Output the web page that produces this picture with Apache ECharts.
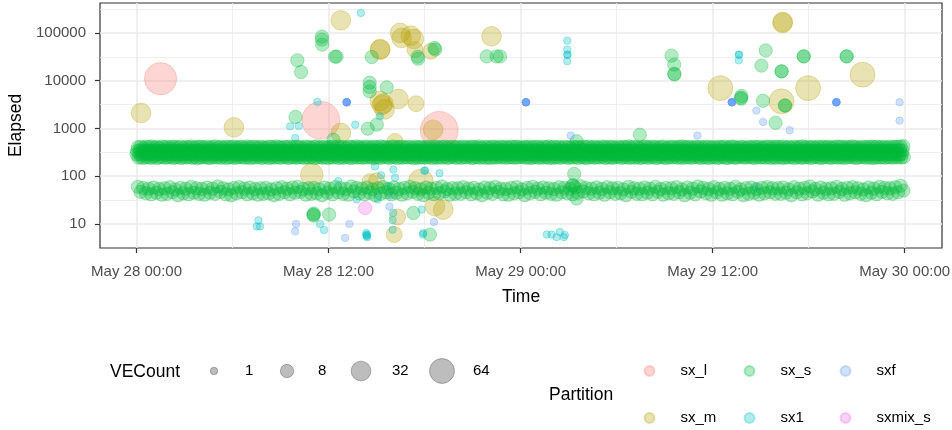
<!DOCTYPE html>
<html>
<head>
<meta charset="utf-8">
<title>Elapsed by time and partition</title>
<script src="https://cdn.jsdelivr.net/npm/echarts@6/dist/echarts.min.js"></script>
<style>
    html, body { margin: 0; padding: 0; background: #fff; }
    #chart { width: 952px; height: 430px; }
</style>
</head>
<body>
<div id="chart"></div>
<script>
var YEAR = 2021;

// axis ranges / breaks (times are 'DD HH:MM' in May)
var xRange = ['27 21:43', '30 02:20'];
var xTicks = ['28 00:00', '28 12:00', '29 00:00', '29 12:00', '30 00:00'];
var xMinorTicks = ['28 06:00', '28 18:00', '29 06:00', '29 18:00'];
var yRange = [3.14, 424000];
var yTicks = [10, 100, 1000, 10000, 100000];
var yMinorTicks = [31.6, 316, 3162, 31623, 316228];
var sizeBreaks = [1, 8, 32, 64];

// [time, Elapsed, VECount]
var sxL = [
    ['28 01:30', 11000, 128], ['28 11:31', 1480, 192], ['28 18:55', 910, 192]
];
var sxM = [
    ['28 00:17', 2110, 32], ['28 06:05', 1055, 32], ['28 10:57', 108, 48],
    ['28 12:46', 184000, 32], ['28 12:46', 808, 32], ['28 14:35', 77, 16],
    ['28 15:00', 80, 16], ['28 15:12', 3800, 32], ['28 15:13', 44700, 32],
    ['28 15:14', 46000, 32], ['28 15:20', 3100, 32], ['28 15:25', 3300, 32],
    ['28 15:30', 2500, 32], ['28 16:06', 6.0, 16], ['28 16:09', 535, 16],
    ['28 16:19', 14, 16], ['28 16:22', 4150, 32], ['28 16:28', 100000, 32],
    ['28 16:34', 78600, 32], ['28 17:08', 87800, 32], ['28 17:20', 74900, 32],
    ['28 17:24', 44700, 16], ['28 17:28', 3300, 16], ['28 17:46', 77, 64],
    ['28 18:23', 41200, 16], ['28 18:32', 940, 32], ['28 18:39', 23.5, 32],
    ['28 19:10', 20, 32], ['28 22:11', 84900, 32], ['29 12:29', 7000, 64],
    ['29 16:18', 3700, 64], ['29 16:22', 162000, 32], ['29 16:23', 170000, 32],
    ['29 17:58', 7000, 64], ['29 21:22', 13400, 64]
];
var sxS = [
    ['28 09:56', 1740, 8], ['28 10:03', 26700, 8], ['28 10:17', 15200, 8],
    ['28 11:03', 15.8, 8], ['28 11:04', 15, 8], ['28 11:05', 16.5, 8],
    ['28 11:35', 84000, 8], ['28 11:35', 72400, 8], ['28 11:36', 56900, 8],
    ['28 12:02', 15.8, 8], ['28 12:18', 580, 8], ['28 12:24', 31900, 8],
    ['28 12:30', 31900, 8], ['28 14:27', 990, 8], ['28 14:34', 9100, 8],
    ['28 14:34', 7400, 8], ['28 14:34', 6000, 8], ['28 14:42', 31400, 8],
    ['28 15:01', 1200, 8], ['28 15:38', 7260, 8], ['28 17:18', 17, 8],
    ['28 17:34', 31900, 8], ['28 17:36', 28900, 8], ['28 18:20', 6.0, 8],
    ['28 18:37', 48500, 8], ['28 18:40', 45000, 8], ['28 21:53', 32300, 8],
    ['28 22:30', 32300, 8], ['28 22:43', 32300, 8], ['29 03:15', 63, 8],
    ['29 03:16', 65, 8], ['29 03:21', 112, 8], ['29 03:30', 540, 8],
    ['29 03:30', 34, 8], ['29 07:27', 740, 8], ['29 09:26', 33500, 8],
    ['29 09:36', 21700, 8], ['29 09:36', 14000, 8], ['29 09:37', 13500, 8],
    ['29 13:46', 4400, 8], ['29 13:47', 4200, 8], ['29 13:48', 4800, 8],
    ['29 15:03', 20700, 8], ['29 15:09', 3800, 8], ['29 15:19', 43200, 8],
    ['29 15:56', 1310, 8], ['29 16:18', 15700, 8], ['29 16:19', 15700, 8],
    ['29 16:31', 3050, 8], ['29 16:32', 3000, 8], ['29 17:41', 32300, 8],
    ['29 17:42', 32300, 8], ['29 20:22', 32300, 8], ['29 20:23', 32300, 8]
];
var sx1 = [
    ['28 07:31', 8.9, 1], ['28 07:37', 11.9, 1], ['28 07:43', 8.9, 1],
    ['28 09:36', 1107, 1], ['28 09:55', 631, 1], ['28 10:08', 1130, 1],
    ['28 11:18', 3600, 1], ['28 11:28', 10, 1], ['28 11:43', 7.5, 1],
    ['28 12:36', 79, 1], ['28 13:40', 1200, 1], ['28 13:46', 32.5, 1],
    ['28 14:01', 262000, 1], ['28 14:21', 6.5, 1], ['28 14:22', 5.8, 1],
    ['28 14:23', 5.6, 1], ['28 14:24', 6.0, 1], ['28 14:25', 5.3, 1],
    ['28 14:54', 160, 1], ['28 15:04', 32.5, 1], ['28 15:12', 1800, 1],
    ['28 15:17', 105, 1], ['28 15:44', 61, 1], ['28 16:00', 7.6, 1],
    ['28 16:00', 12, 1], ['28 16:02', 17, 1], ['28 16:03', 138, 1],
    ['28 16:09', 93, 1], ['28 17:49', 20, 1], ['28 17:54', 6.0, 1],
    ['28 17:55', 6.5, 1], ['28 17:59', 130, 1], ['28 18:02', 132, 1],
    ['28 18:56', 115, 1], ['29 01:38', 6.0, 1], ['29 01:56', 6.0, 1],
    ['29 02:15', 5.3, 1], ['29 02:27', 6.8, 1], ['29 02:42', 5.3, 1],
    ['29 02:46', 5.9, 1], ['29 02:55', 68900, 1], ['29 02:55', 44700, 1],
    ['29 02:55', 35100, 1], ['29 02:56', 35100, 1], ['29 02:55', 25600, 1],
    ['29 13:38', 35100, 1], ['29 13:39', 35100, 1], ['29 13:38', 26700, 1]
];
var sxf = [
    ['28 09:55', 7.0, 1], ['28 09:58', 10, 1], ['28 13:02', 5.1, 1],
    ['28 13:08', 3540, 1], ['28 13:08', 3540, 1], ['28 13:08', 3540, 1],
    ['28 13:08', 3540, 1], ['28 13:08', 3540, 1], ['28 13:08', 3540, 1],
    ['28 13:18', 10, 1], ['28 15:48', 23.3, 1], ['28 15:54', 40, 1],
    ['28 18:35', 11, 1],
    ['29 00:20', 3540, 1], ['29 00:20', 3540, 1], ['29 00:20', 3540, 1],
    ['29 00:20', 3540, 1], ['29 00:20', 3540, 1], ['29 00:20', 3540, 1],
    ['29 03:08', 709, 1], ['29 11:03', 709, 1],
    ['29 13:12', 3540, 1], ['29 13:12', 3540, 1], ['29 13:12', 3540, 1],
    ['29 13:12', 3540, 1], ['29 13:12', 3540, 1], ['29 13:12', 3540, 1],
    ['29 14:44', 2370, 1], ['29 14:44', 60, 1], ['29 15:09', 1370, 1],
    ['29 16:49', 915, 1],
    ['29 19:44', 3540, 1], ['29 19:44', 3540, 1], ['29 19:44', 3540, 1],
    ['29 19:44', 3540, 1], ['29 19:44', 3540, 1], ['29 19:44', 3540, 1],
    ['29 23:41', 3540, 1], ['29 23:41', 1460, 1]
];
var sxmixS = [
    ['28 14:17', 21.5, 8]
];

// sx_s periodic jobs (VECount 8), the solid band: 4 rows read every 10 min
var bandA = [
    405,412,398,415,408,420,402,410,395,418,406,412, 400,414,409,402,418,396,411,404,420,399,408,415,
    410,402,416,398,407,421,403,412,399,414,405,410, 417,400,409,413,398,419,404,408,415,401,412,406,
    398,416,410,403,420,407,399,413,408,417,402,411, 414,405,400,418,409,396,412,420,403,407,416,400,
    409,413,402,417,405,411,398,415,410,404,419,407, 401,412,416,399,408,414,403,420,406,411,397,413,
    418,404,409,415,400,412,407,396,417,405,410,402, 406,419,403,411,414,398,410,416,401,409,413,405,
    412,400,417,407,402,415,409,404,420,398,411,408, 403,414,410,399,416,406,412,401,418,409,415,404,
    399,411,405,418,402,409,414,397,412,406,419,401, 415,403,410,396,413,408,401,417,404,411,399,416,
    407,418,400,412,405,399,416,409,402,414,408,396, 411,398,414,406,419,403,408,412,397,405,417,410,
    402,416,407,401,410,418,396,404,413,408,400,415, 419,405,412,409,398,414,406,411,403,416,410,399,
    408,400,415,404,417,401,409,419,406,398,412,405, 396,413,402,416,407,410,400,405,418,411,403,414,
    413,407,418,400,411,397,415,402,409,420,405,408, 404,410,399,414,403,416,408,413,400,407,418,411,
    416,401,411,405,419,409,402,398,414,404,410,417, 410,415,404,412,406,400,417,408,411,415,418,425
];
var bandB = [
    336,342,331,347,338,344,333,349,340,335,346,339, 343,332,348,337,341,345,334,350,338,343,336,347,
    339,345,333,341,348,336,344,331,346,340,337,342, 334,349,340,343,332,346,338,345,341,335,348,337,
    346,333,342,339,347,336,343,340,332,349,338,344, 341,337,350,334,345,339,332,347,343,336,341,348,
    333,346,338,342,335,349,340,337,344,331,347,339, 348,340,334,345,339,343,336,350,333,341,346,338,
    337,344,341,332,348,335,345,339,342,347,334,343, 345,336,349,340,333,346,338,342,337,344,350,335,
    340,347,335,343,346,332,341,348,339,336,344,342, 338,343,346,337,341,349,334,345,340,347,336,344,
    344,335,339,348,331,342,347,336,345,338,349,333, 332,348,343,336,346,340,335,344,349,337,342,346,
    347,339,334,350,338,345,341,333,340,346,335,341, 335,342,347,341,344,333,349,338,336,343,348,337,
    349,336,340,345,337,347,332,346,343,339,334,345, 342,345,337,333,349,338,344,340,347,332,343,339,
    336,340,348,344,334,341,346,335,338,349,337,347, 343,333,345,338,342,350,339,347,334,341,345,336,
    339,347,336,346,340,335,343,332,348,344,338,342, 346,338,342,335,347,343,337,349,341,336,346,340,
    333,344,349,340,336,345,348,339,343,347,333,345, 341,336,344,347,339,334,342,346,337,340,348,344
];
var bandC = [
    288,295,283,298,290,286,296,281,293,289,299,284, 292,287,297,282,294,290,285,299,288,293,281,296,
    285,298,291,287,295,283,292,289,297,284,290,294, 296,282,289,293,286,299,284,291,288,295,283,290,
    290,294,285,297,281,292,288,296,283,289,298,286, 283,291,296,288,293,285,299,282,290,287,294,292,
    297,286,290,284,298,291,283,295,289,292,285,288, 287,293,282,296,289,284,297,290,286,299,281,294,
    294,289,298,283,291,296,285,288,293,282,297,290, 281,297,286,292,284,290,295,287,299,285,291,283,
    299,284,293,289,296,282,290,294,286,298,288,292, 286,291,288,295,283,297,289,284,292,290,296,288,
    293,282,296,287,291,285,298,292,284,289,283,297, 284,299,289,293,286,294,281,288,296,291,287,285,
    298,287,284,290,299,288,293,283,289,297,292,282, 289,294,292,281,287,296,286,297,285,283,295,291,
    282,290,297,294,285,289,292,286,298,288,284,296, 295,286,283,291,297,284,290,299,282,294,289,287,
    291,296,288,285,292,298,283,287,295,286,293,281, 286,283,294,299,284,291,296,289,287,292,282,298,
    297,292,287,283,295,286,288,294,281,296,290,285, 283,289,299,292,288,282,297,285,294,287,299,293,
    292,285,291,296,282,293,284,298,290,283,288,295, 288,297,285,289,294,287,291,283,296,290,285,292
];
var bandD = [
    245,250,241,253,247,243,255,239,248,252,244,249, 251,242,247,254,240,249,246,253,243,250,238,247,
    248,253,244,241,252,246,250,243,255,240,247,251, 242,247,253,249,244,251,239,248,245,254,242,246,
    254,240,249,245,251,243,248,253,241,247,250,244, 247,252,243,250,246,255,240,249,253,244,248,241,
    250,245,254,241,248,243,251,246,239,252,245,249, 243,249,246,253,240,250,247,242,254,248,241,252,
    252,241,248,244,251,246,253,239,247,243,250,245, 246,254,240,249,243,248,245,252,241,250,255,243,
    249,243,251,247,254,240,246,250,244,253,242,248, 241,248,245,252,246,251,243,249,250,244,247,253,
    253,244,250,239,247,252,242,248,245,251,240,246, 244,251,242,248,255,241,249,245,252,239,253,247,
    240,246,253,244,250,247,254,241,248,246,243,250, 255,243,247,251,242,249,244,253,240,247,251,242,
    248,252,239,246,253,245,241,250,246,254,244,249, 242,247,251,243,249,254,248,240,252,245,239,251,
    250,240,245,252,244,241,253,247,243,249,254,246, 245,253,248,240,251,246,250,244,255,241,248,243,
    251,244,242,249,246,253,239,251,247,243,250,252, 239,250,254,245,241,248,252,246,242,253,245,247,
    247,242,249,253,248,240,246,254,249,244,252,241, 244,249,246,250,243,252,247,245,251,248,246,253
];
// sx_s lower band: 2 rows read every 20 min
var lowA = [
    60,57,55,58,54,56,59,53,57,55,60,56, 54,58,55,61,56,53,57,59,55,58,54,56,
    57,53,56,59,55,58,60,54,56,57,53,58, 55,59,56,54,61,57,55,58,53,56,59,55,
    58,54,57,60,56,53,58,55,57,61,54,56, 56,59,55,57,53,58,56,60,55,54,57,59,
    53,57,60,55,58,56,54,59,57,55,58,62, 57,55,58,54,59,56,57,53,60,56,55,58,
    55,60,54,57,56,59,53,58,55,61,57,54, 59,54,57,55,60,53,56,58,54,57,59,56,
    56,58,53,59,55,57,61,54,58,55,56,60, 54,57,59,56,53,58,55,60,57,56,59,63
];
var lowB = [
    47,44,42,45,41,43,46,40,44,42,45,43, 41,45,43,47,42,40,44,46,42,44,41,43,
    44,40,43,46,42,45,47,41,43,44,40,45, 42,46,43,41,48,44,42,45,40,43,46,42,
    45,41,44,47,43,40,45,42,44,48,41,43, 43,46,42,44,40,45,43,47,42,41,44,46,
    40,44,47,42,45,43,41,46,44,42,45,48, 44,42,45,41,46,43,44,40,47,43,42,45,
    42,47,41,44,43,46,40,45,42,48,44,41, 46,41,44,42,47,40,43,45,41,44,46,43,
    43,45,40,46,42,44,48,41,45,42,43,47, 41,44,46,43,40,45,42,47,44,43,46,50
];

var FONT = "'Liberation Sans', Arial, Helvetica, sans-serif";
var MONTHS = ['Jan', 'Feb', 'Mar', 'Apr', 'May', 'Jun', 'Jul', 'Aug', 'Sep', 'Oct', 'Nov', 'Dec'];
var COLORS = {
    sx_l: [248, 118, 109], sx_m: [183, 159, 0], sx_s: [0, 186, 56],
    sx1: [0, 191, 196], sxf: [97, 156, 255], sxmix_s: [245, 100, 227]
};

function T(s) {
    var p = s.split(/[ :]/);
    return Date.UTC(YEAR, 4, +p[0], +p[1], +p[2]);
}
function pad(n) {
    return (n < 10 ? '0' : '') + n;
}
function fmtTime(v) {
    var d = new Date(v);
    return MONTHS[d.getUTCMonth()] + ' ' + d.getUTCDate() + ' ' + pad(d.getUTCHours()) + ':' + pad(d.getUTCMinutes());
}
function veSize(n) {
    return 7.5 + 2.2 * Math.sqrt(n - 1);
}
function rgba(c, a) {
    return 'rgba(' + c[0] + ',' + c[1] + ',' + c[2] + ',' + a + ')';
}
function rows(list) {
    return list.map(function (r) { return [T(r[0]), r[1], r[2]]; });
}
function band(start, stepMin, values) {
    var t0 = T(start);
    return values.map(function (v, i) { return [t0 + i * stepMin * 60000, v, 8]; });
}
function scatter(name, data) {
    var c = COLORS[name];
    return {
        name: name,
        type: 'scatter',
        data: data,
        symbol: 'circle',
        symbolSize: function (d) { return veSize(d[2]); },
        itemStyle: { color: rgba(c, 0.3), borderColor: rgba(c, 0.3), borderWidth: 1, opacity: 1 },
        emphasis: { disabled: true },
        xAxisIndex: 0,
        yAxisIndex: 0
    };
}

var series = [
    scatter('sx_l', rows(sxL)),
    scatter('sx_m', rows(sxM)),
    scatter('sx_s', rows(sxS)),
    scatter('sx1', rows(sx1)),
    scatter('sxf', rows(sxf)),
    scatter('sxmix_s', rows(sxmixS)),
    scatter('sx_s', band('28 00:05', 10, bandA)
        .concat(band('28 00:02', 10, bandB))
        .concat(band('28 00:00', 10, bandC))
        .concat(band('28 00:07', 10, bandD))),
    scatter('sx_s', band('28 00:05', 20, lowA).concat(band('28 00:15', 20, lowB)))
];
// empty series that only feed the VECount legend
sizeBreaks.forEach(function (n) {
    series.push({ name: String(n), type: 'scatter', data: [] });
});

var legendText = { fontSize: 15, color: '#000', fontFamily: FONT, lineHeight: 18 };
var sizeKeyCenters = [214, 287, 361, 442];
var legends = sizeBreaks.map(function (n, i) {
    var d = veSize(n);
    return {
        left: sizeKeyCenters[i] - (d + 1) / 2,
        top: 371 - Math.max(d + 1, 18) / 2,
        padding: 0,
        selectedMode: false,
        icon: 'circle',
        itemWidth: 52,
        itemHeight: d,
        textStyle: legendText,
        data: [{
            name: String(n),
            itemStyle: { color: 'rgba(0,0,0,0.32)', borderColor: 'rgba(0,0,0,0.32)', borderWidth: 1 }
        }]
    };
});
var partitionCols = [['sx_l', 'sx_m'], ['sx_s', 'sx1'], ['sxf', 'sxmix_s']];
var partitionKeyCenters = [649, 749, 845];
partitionCols.forEach(function (col, i) {
    legends.push({
        orient: 'vertical',
        left: partitionKeyCenters[i] - 5.5,
        top: 362,
        padding: 0,
        itemGap: 29,
        selectedMode: false,
        icon: 'circle',
        itemWidth: 52,
        itemHeight: 10,
        textStyle: legendText,
        data: col
    });
});

var gridLine = { color: '#EBEBEB', width: 1.6 };
var minorLine = { color: '#EBEBEB', width: 0.8 };
var tickLine = { color: '#333333', width: 1.2 };
var tickLabel = { color: '#4D4D4D', fontSize: 15, fontFamily: FONT };
var titleText = { color: '#000', fontSize: 17.5, fontFamily: FONT, fontWeight: 'normal' };

var chart = echarts.init(document.getElementById('chart'), null, { renderer: 'canvas' });
chart.setOption({
    animation: false,
    backgroundColor: '#fff',
    title: [
        { text: 'VECount', left: 110, top: 363, padding: 0, textStyle: titleText },
        { text: 'Partition', left: 549, top: 386, padding: 0, textStyle: titleText }
    ],
    legend: legends,
    grid: {
        left: 100, top: 3, right: 10, bottom: 182,
        show: true, borderColor: '#333333', borderWidth: 1.2,
        containLabel: false, outerBoundsMode: 'none'
    },
    xAxis: [{
        type: 'value',
        min: T(xRange[0]),
        max: T(xRange[1]),
        name: 'Time',
        nameLocation: 'middle',
        nameGap: 40,
        nameTextStyle: titleText,
        axisLine: { show: false },
        axisTick: { show: true, length: 5, lineStyle: tickLine, customValues: xTicks.map(T) },
        axisLabel: Object.assign({ customValues: xTicks.map(T), formatter: fmtTime, margin: 16 }, tickLabel),
        splitLine: { show: true, lineStyle: gridLine }
    }, {
        type: 'value',
        min: T(xRange[0]),
        max: T(xRange[1]),
        position: 'bottom',
        axisLine: { show: false },
        axisTick: { show: false, customValues: xMinorTicks.map(T) },
        axisLabel: { show: false },
        splitLine: { show: true, lineStyle: minorLine }
    }],
    yAxis: [{
        type: 'log',
        logBase: 10,
        min: yRange[0],
        max: yRange[1],
        name: 'Elapsed',
        nameLocation: 'middle',
        nameRotate: 90,
        nameGap: 67,
        nameTextStyle: titleText,
        axisLine: { show: false },
        axisTick: { show: true, length: 5, lineStyle: tickLine, customValues: yTicks },
        axisLabel: Object.assign({
            customValues: yTicks,
            margin: 14,
            formatter: function (v) { return String(Math.round(v)); }
        }, tickLabel),
        splitLine: { show: true, lineStyle: gridLine }
    }, {
        type: 'log',
        logBase: 10,
        min: yRange[0],
        max: yRange[1],
        position: 'left',
        axisLine: { show: false },
        axisTick: { show: false, customValues: yMinorTicks },
        axisLabel: { show: false },
        splitLine: { show: true, lineStyle: minorLine }
    }],
    series: series
});
</script>
</body>
</html>
